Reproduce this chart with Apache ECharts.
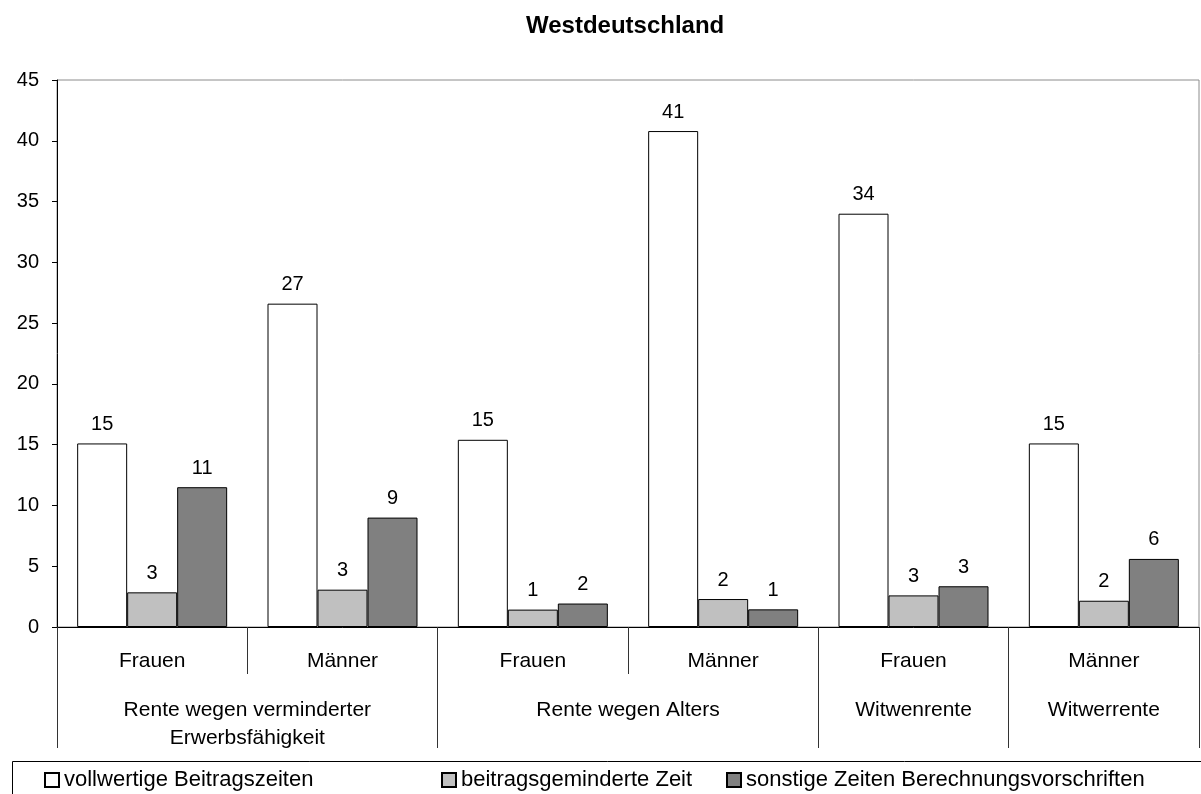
<!DOCTYPE html>
<html>
<head>
<meta charset="utf-8">
<script src="https://cdn.jsdelivr.net/npm/echarts@6/dist/echarts.min.js"></script>
<style>
  html, body { margin: 0; padding: 0; background: #fff; }
  #chart { width: 1201px; height: 794px; }
</style>
</head>
<body>
<div id="chart"></div>
<script>
// Kategorien (untere Achse, Zeile 1) und Gruppen (Zeile 2)
const categories = ['Frauen', 'Männer', 'Frauen', 'Männer', 'Frauen', 'Männer']
const groups = ['Rente wegen verminderter\nErwerbsfähigkeit', 'Rente wegen Alters', 'Witwenrente', 'Witwerrente']
const groupCenters = [1, 3, 4.5, 5.5]
const groupBounds = [0, 2, 4, 5, 6]

const yTicks = [0, 5, 10, 15, 20, 25, 30, 35, 40, 45]

// Balkenwerte (aus dem Bild geschätzt) und angezeigte Beschriftungen
const vollwertig = [15.1, 26.6, 15.4, 40.8, 34.0, 15.1]
const gemindert = [2.85, 3.07, 1.43, 2.3, 2.6, 2.16]
const sonstige = [11.5, 9.0, 1.93, 1.45, 3.35, 5.6]
const vollwertigLabels = ['15', '27', '15', '41', '34', '15']
const geminderLabels = ['3', '3', '1', '2', '3', '2']
const sonstigeLabels = ['11', '9', '2', '1', '3', '6']

const seriesNames = ['vollwertige Beitragszeiten', 'beitragsgeminderte Zeit', 'sonstige Zeiten Berechnungsvorschriften']
const seriesColors = ['#ffffff', '#c0c0c0', '#808080']

const font = 'Liberation Sans, Arial, sans-serif'

function barSeries(name, data, labels, color) {
  return {
    name: name,
    type: 'bar',
    xAxisIndex: 0,
    barWidth: 50,
    barGap: '0%',
    data: data,
    itemStyle: { color: color, borderColor: '#000', borderWidth: 1 },
    label: {
      show: true,
      position: 'top',
      distance: 9,
      fontSize: 20,
      fontFamily: font,
      color: '#000',
      formatter: p => labels[p.dataIndex],
    },
    emphasis: { disabled: true },
  }
}

function legendAt(left, name) {
  return {
    left: left,
    top: 769,
    padding: 0,
    itemWidth: 14,
    itemHeight: 14,
    icon: 'rect',
    selectedMode: false,
    data: [name],
    textStyle: { fontSize: 22, fontFamily: font, color: '#000' },
  }
}

const chart = echarts.init(document.getElementById('chart'))
chart.setOption({
  animation: false,
  title: {
    text: 'Westdeutschland',
    left: 521,
    top: 9,
    textStyle: { fontSize: 24, fontWeight: 'bold', fontFamily: font, color: '#000' },
  },
  grid: {
    left: 57,
    right: 2,
    top: 80,
    bottom: 167,
    show: true,
    borderColor: '#8c8c8c',
    borderWidth: 1,
  },
  legend: [
    legendAt(44, seriesNames[0]),
    legendAt(441, seriesNames[1]),
    legendAt(726, seriesNames[2]),
  ],
  graphic: [{
    type: 'rect',
    left: 10,
    top: 759,
    shape: { width: 1190, height: 45 },
    style: { fill: 'none', stroke: '#000', lineWidth: 1 },
    silent: true,
  }],
  xAxis: [
    {
      type: 'category',
      data: categories,
      position: 'bottom',
      axisLine: { lineStyle: { color: '#000', width: 1 } },
      axisTick: { show: true, interval: 0, length: 47, lineStyle: { color: '#333' } },
      axisLabel: { interval: 0, margin: 24, fontSize: 21, fontFamily: font, color: '#000' },
      splitLine: { show: false },
    },
    {
      type: 'value',
      min: 0,
      max: 6,
      position: 'bottom',
      axisLine: { show: false },
      axisTick: { show: true, customValues: groupBounds, length: 121, lineStyle: { color: '#333' } },
      axisLabel: {
        customValues: groupCenters,
        margin: 69,
        fontSize: 21,
        lineHeight: 28,
        fontFamily: font,
        color: '#000',
        formatter: v => groups[groupCenters.indexOf(v)],
      },
      splitLine: { show: false },
    },
  ],
  yAxis: {
    type: 'value',
    min: yTicks[0],
    max: yTicks[yTicks.length - 1],
    interval: 5,
    axisLine: { show: true, lineStyle: { color: '#000' } },
    axisTick: { show: true, length: 5, lineStyle: { color: '#000' } },
    axisLabel: { margin: 18, fontSize: 20, fontFamily: font, color: '#000' },
    splitLine: { show: false },
  },
  series: [
    barSeries(seriesNames[0], vollwertig, vollwertigLabels, seriesColors[0]),
    barSeries(seriesNames[1], gemindert, geminderLabels, seriesColors[1]),
    barSeries(seriesNames[2], sonstige, sonstigeLabels, seriesColors[2]),
  ],
})
</script>
</body>
</html>
